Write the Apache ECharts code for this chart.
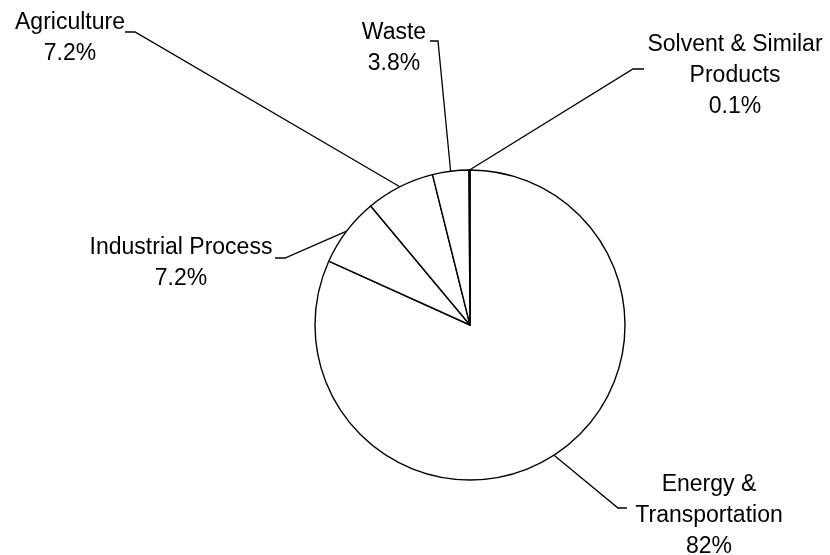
<!DOCTYPE html>
<html>
<head>
<meta charset="utf-8">
<script src="https://cdn.jsdelivr.net/npm/echarts@6/dist/echarts.min.js"></script>
<style>
  html, body { margin: 0; padding: 0; background: #fff; }
  #main { width: 830px; height: 555px; }
</style>
</head>
<body>
<div id="main"></div>
<script>
// slices, clockwise from 12 o'clock
var sectors = ['Energy &\nTransportation', 'Industrial Process', 'Agriculture', 'Waste', 'Solvent & Similar\nProducts'];
var shares = [82, 7.2, 7.2, 3.8, 0.1];

// where each label sits and how its leader line bends (elbow, end)
var labelSpots = [
    { x: 709, y: 516, elbow: [618, 508], end: [627, 508] },
    { x: 181, y: 263, elbow: [285, 258], end: [275, 258] },
    { x: 70, y: 38, elbow: [135, 32], end: [125, 32] },
    { x: 394, y: 48, elbow: [438, 41], end: [430, 41] },
    { x: 735, y: 76, elbow: [633, 69], end: [644, 69] }
];

var pieData = sectors.map(function (name, i) {
    return { name: name, value: shares[i] };
});

var myChart = echarts.init(document.getElementById('main'));

option = {
    animation: false,
    backgroundColor: '#fff',
    series: [{
        type: 'pie',
        center: [470, 325],
        radius: 155,
        startAngle: 90,
        clockwise: true,
        avoidLabelOverlap: false,
        silent: true,
        itemStyle: {
            color: '#fff',
            borderColor: '#000',
            borderWidth: 1.4
        },
        label: {
            show: true,
            position: 'outside',
            formatter: '{b}\n{c}%',
            color: '#000',
            fontFamily: 'Liberation Sans',
            fontSize: 23,
            lineHeight: 31,
            align: 'center'
        },
        labelLine: {
            show: true,
            length: 20,
            length2: 10,
            lineStyle: { color: '#000', width: 1.3 }
        },
        emphasis: { disabled: true },
        labelLayout: function (params) {
            var spot = labelSpots[params.dataIndex];
            var anchor = params.labelLinePoints ? params.labelLinePoints[0] : spot.elbow;
            return {
                x: spot.x,
                y: spot.y,
                align: 'center',
                verticalAlign: 'middle',
                labelLinePoints: [anchor, spot.elbow, spot.end]
            };
        },
        data: pieData
    }]
};
myChart.setOption(option);
</script>
</body>
</html>
